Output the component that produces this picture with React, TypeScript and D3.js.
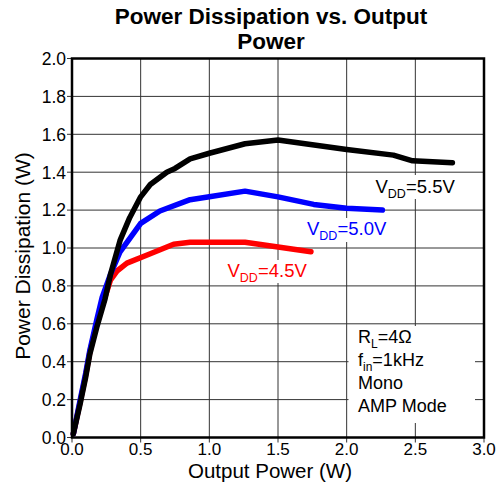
import React from "react";
import * as d3 from "d3";

const xTicks = [0, 0.5, 1.0, 1.5, 2.0, 2.5, 3.0];
const yTicks = [0, 0.2, 0.4, 0.6, 0.8, 1.0, 1.2, 1.4, 1.6, 1.8, 2.0];

const vdd55X = [0.01, 0.06, 0.10, 0.13, 0.18, 0.24, 0.28, 0.35, 0.42, 0.5, 0.57, 0.69, 0.75, 0.86, 1.0, 1.26, 1.5, 2.0, 2.34, 2.48, 2.77];
const vdd55Y = [0.02, 0.18, 0.32, 0.44, 0.58, 0.73, 0.86, 1.04, 1.16, 1.27, 1.335, 1.40, 1.42, 1.47, 1.50, 1.55, 1.57, 1.52, 1.49, 1.46, 1.45];

const vdd50X = [0.01, 0.06, 0.10, 0.13, 0.18, 0.22, 0.28, 0.35, 0.5, 0.64, 0.86, 1.0, 1.26, 1.5, 1.76, 2.0, 2.26];
const vdd50Y = [0.02, 0.20, 0.34, 0.46, 0.62, 0.74, 0.86, 0.98, 1.13, 1.195, 1.255, 1.27, 1.30, 1.27, 1.23, 1.21, 1.20];

const vdd45X = [0.01, 0.06, 0.10, 0.13, 0.18, 0.24, 0.28, 0.33, 0.40, 0.57, 0.74, 0.86, 1.26, 1.5, 1.74];
const vdd45Y = [0.02, 0.19, 0.33, 0.45, 0.60, 0.74, 0.83, 0.88, 0.92, 0.97, 1.02, 1.03, 1.03, 1.005, 0.98];

const seriesNames = ["5.5V", "5.0V", "4.5V"];
const seriesColors = ["#000000", "#0000ff", "#ff0000"];

const W = 499;
const H = 484;
const L = 72, R = 484, T = 58.5, B = 437.5;
const FONT = "'Liberation Sans', Arial, Helvetica, sans-serif";

export default function App() {
  const x = d3.scaleLinear().domain([0, 3]).range([L, R]);
  const y = d3.scaleLinear().domain([0, 2]).range([B, T]);
  const line = d3.line<[number, number]>().x(d => x(d[0])).y(d => y(d[1]));

  const series = [
    vdd55X.map((v, i) => [v, vdd55Y[i]] as [number, number]),
    vdd50X.map((v, i) => [v, vdd50Y[i]] as [number, number]),
    vdd45X.map((v, i) => [v, vdd45Y[i]] as [number, number]),
  ];

  const labelPos = [
    { tx: 375.5, ty: 193, box: [372, 175, 86, 24] },
    { tx: 307, ty: 235, box: [304, 218, 82, 24] },
    { tx: 227.5, ty: 276.5, box: [224, 260, 82, 23] },
  ];

  return (
    <div style={{ position: "absolute", left: 0, top: 0 }}>
      <svg width={W} height={H} style={{ display: "block", background: "#fff" }} fontFamily={FONT}>
        <rect x={0} y={0} width={W} height={H} fill="#fff" />
        {/* title */}
        <text x={271} y={23.5} textAnchor="middle" fontWeight="bold" fontSize={22.5}>Power Dissipation vs. Output</text>
        <text x={271} y={49} textAnchor="middle" fontWeight="bold" fontSize={22.5}>Power</text>

        {/* grid */}
        {xTicks.map(t => (
          <line key={"gx" + t} x1={x(t)} x2={x(t)} y1={T} y2={B + 5} stroke="#333" strokeWidth={1} />
        ))}
        {yTicks.map(t => (
          <line key={"gy" + t} x1={L - 5} x2={R} y1={y(t)} y2={y(t)} stroke="#333" strokeWidth={1} />
        ))}

        {/* label backgrounds */}
        {labelPos.map((p, i) => (
          <rect key={"lb" + i} x={p.box[0]} y={p.box[1]} width={p.box[2]} height={p.box[3]} fill="#fff" />
        ))}
        <rect x={348.5} y={326} width={126.5} height={97} fill="#fff" />

        {/* curves */}
        {series.map((s, i) => (
          <path key={"s" + i} d={line(s) || ""} fill="none" stroke={seriesColors[i]} strokeWidth={5.5}
            strokeLinejoin="round" strokeLinecap="round" />
        )).reverse()}

        {/* frame */}
        <rect x={L} y={T} width={R - L} height={B - T} fill="none" stroke="#000" strokeWidth={2.5} />

        {/* tick labels */}
        {yTicks.map(t => (
          <text key={"ty" + t} x={66} y={y(t)} dy="0.36em" textAnchor="end" fontSize={17.5}>{t.toFixed(1)}</text>
        ))}
        {xTicks.map(t => (
          <text key={"tx" + t} x={x(t)} y={455} textAnchor="middle" fontSize={17}>{t.toFixed(1)}</text>
        ))}

        {/* axis titles */}
        <text x={270} y={478} textAnchor="middle" fontSize={20.5}>Output Power (W)</text>
        <text transform={`translate(30,256) rotate(-90)`} textAnchor="middle" fontSize={21}>Power Dissipation (W)</text>

        {/* series labels */}
        {labelPos.map((p, i) => (
          <text key={"lt" + i} x={p.tx} y={p.ty} fontSize={18.5} fill={seriesColors[i]}>
            V<tspan fontSize={12.5} dy={5}>DD</tspan><tspan dy={-5}>={seriesNames[i]}</tspan>
          </text>
        ))}

        {/* conditions legend */}
        <text x={358} y={342.5} fontSize={18}>R<tspan fontSize={12} dy={5}>L</tspan><tspan dy={-5}>=4Ω</tspan></text>
        <text x={358} y={365.5} fontSize={18}>f<tspan fontSize={12} dy={5}>in</tspan><tspan dy={-5}>=1kHz</tspan></text>
        <text x={358} y={389} fontSize={18}>Mono</text>
        <text x={358} y={412} fontSize={18}>AMP Mode</text>
      </svg>
    </div>
  );
}
